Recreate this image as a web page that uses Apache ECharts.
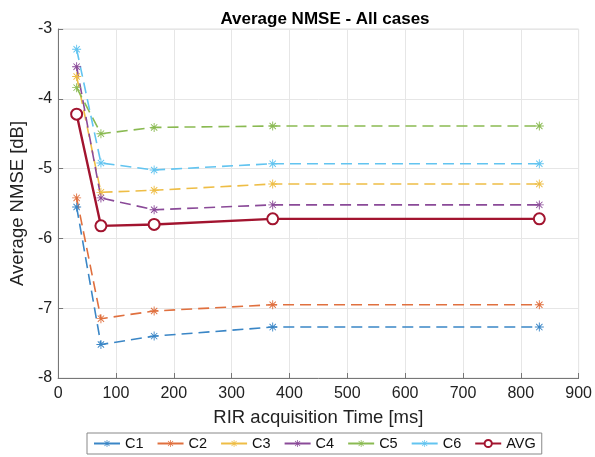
<!DOCTYPE html>
<html><head><meta charset="utf-8">
<script src="https://cdn.jsdelivr.net/npm/echarts@6/dist/echarts.min.js"></script>
<style>html,body{margin:0;padding:0;background:#fff}#c{width:595px;height:457px}</style>
</head><body><div id="c"></div>
<script>
const times = [32, 74, 166, 371, 832];
const seriesNames = ['C1','C2','C3','C4','C5','C6','AVG'];
const c1 = [-5.55, -7.52, -7.40, -7.27, -7.27];
const c2 = [-5.42, -7.15, -7.04, -6.95, -6.95];
const c3 = [-3.68, -5.34, -5.31, -5.22, -5.22];
const c4 = [-3.54, -5.42, -5.59, -5.52, -5.52];
const c5 = [-3.84, -4.50, -4.41, -4.39, -4.39];
const c6 = [-3.29, -4.92, -5.02, -4.93, -4.93];
const avg = [-4.22, -5.82, -5.80, -5.72, -5.72];
const colors = ['#3a86c6','#e0703f','#eebd45','#8a4a98','#8aba52','#62c4f0','#a2142f'];

const star = 'path://M-1,-10L1,-10L1,10L-1,10Z M-10,-1L10,-1L10,1L-10,1Z M-6.3,-7.7L7.7,6.3L6.3,7.7L-7.7,-6.3Z M6.3,-7.7L7.7,-6.3L-6.3,7.7L-7.7,6.3Z';
const allData = [c1,c2,c3,c4,c5,c6];
const pair = arr => times.map((t,i)=>[t,arr[i]]);
const series = allData.map((d,i)=>({
  name: seriesNames[i], type:'line', data: pair(d),
  symbol: star, symbolSize: 9, showSymbol:true,
  lineStyle:{color:colors[i], width:1.6, type:[11,6]},
  itemStyle:{color:colors[i]},
  z: 2
}));
series.push({
  name:'AVG', type:'line', data: pair(avg),
  symbol:'emptyCircle', symbolSize:11,
  lineStyle:{color:colors[6], width:2.4},
  itemStyle:{color:colors[6], borderWidth:2.4, borderColor:colors[6]},
  z: 5
});
const font = '"Liberation Sans", Arial, Helvetica, sans-serif';
const chart = echarts.init(document.getElementById('c'), null, {renderer:'canvas'});
chart.setOption({
  animation:false,
  textStyle:{fontFamily:font},
  title:{text:'Average NMSE - All cases', left:320, textAlign:'center', top:6,
    textStyle:{fontFamily:font, fontWeight:'bold', fontSize:17, color:'#000'}},
  grid:{left:53, right:14, top:29, bottom:79, show:true, borderColor:'#dedede', borderWidth:1},
  xAxis:{type:'value', min:0, max:900, interval:100,
    name:'RIR acquisition Time [ms]', nameLocation:'middle', nameGap:30,
    nameTextStyle:{fontFamily:font, fontSize:18.5, color:'#222'},
    axisLine:{show:true, lineStyle:{color:'#777', width:1}},
    axisTick:{show:true, inside:true, length:5, lineStyle:{color:'#777'}},
    axisLabel:{fontFamily:font, fontSize:16, color:'#222', margin:8},
    splitLine:{show:true, lineStyle:{color:'#e6e6e6', width:1}}},
  yAxis:{type:'value', min:-8, max:-3, interval:1,
    name:'Average NMSE [dB]', nameLocation:'middle', nameGap:27,
    nameTextStyle:{fontFamily:font, fontSize:18.5, color:'#222'},
    axisLine:{show:true, lineStyle:{color:'#777', width:1}},
    axisTick:{show:true, inside:true, length:5, lineStyle:{color:'#777'}},
    axisLabel:{fontFamily:font, fontSize:16, color:'#222', margin:6},
    splitLine:{show:true, lineStyle:{color:'#e6e6e6', width:1}}},
  legend:{data:seriesNames, left:87, top:433, orient:'horizontal',
    itemWidth:26, itemHeight:9, itemGap:13, padding:[3,6,3,6],
    lineStyle:{type:'solid'},
    borderColor:'#888', borderWidth:1, backgroundColor:'#fff',
    textStyle:{fontFamily:font, fontSize:14.5, color:'#111'}},
  series: series
});
</script></body></html>
